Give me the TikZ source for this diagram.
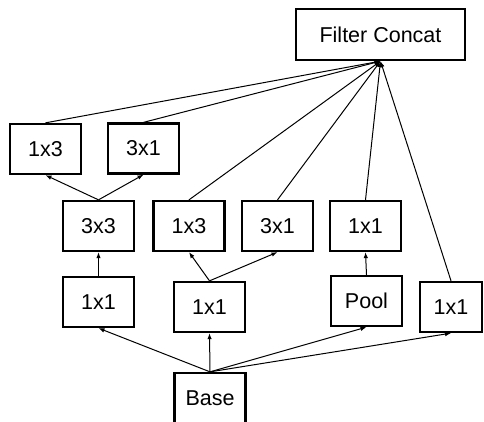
\documentclass[tikz,border=0pt]{standalone}
\usepackage{fontspec}
\setmainfont{Liberation Sans}
\usetikzlibrary{arrows.meta}

\begin{document}
\begin{tikzpicture}[x = 1pt, y = 1pt, line width = 1pt,
    box/.style = {rectangle, draw, line width = 2.3pt, minimum width = 71pt,
        minimum height = 50pt, inner sep = 0pt,
        font = \fontsize{21.5}{24}\selectfont},
    arr/.style = {-{Latex[length = 6pt, width = 4.5pt]}}]
\clip (0,0) rectangle (484,421);
\draw (380.5,386.5) node[box, minimum width = 169pt, minimum height = 51pt](f1){Filter Concat}
    (45.5,272) node[box](t1){1x3}
    (143.5,272.5) node[box](t2){3x1}
    (98.5,195) node[box](m1){3x3}
    (189,195) node[box](m2){1x3}
    (277.5,195) node[box](m3){3x1}
    (365.5,195) node[box](m4){1x1}
    (98.5,119) node[box](l1){1x1}
    (209.5,114) node[box](l2){1x1}
    (366.5,120) node[box](l3){Pool}
    (451,114) node[box, minimum width = 62pt](l4){1x1}
    (210,23) node[box](b1){Base};
    \draw [arr] (b1.north) -- (l1.south);
    \draw [arr] (b1.north) -- (l2.south);
    \draw [arr] (b1.north) -- (l3.south);
    \draw [arr] (b1.north) -- (l4.south);
    \draw [arr] (l1.north) -- (m1.south);
    \draw [arr] (l2.north) -- (m2.south);
    \draw [arr] (l2.north) -- (m3.south);
    \draw [arr] (l3.north) -- (m4.south);
    \draw [arr] (m1.north) -- (t1.south);
    \draw [arr] (m1.north) -- (t2.south);
    \draw [arr] (t1.north) -- (f1.south);
    \draw [arr] (t2.north) -- (f1.south);
    \draw [arr] (m2.north) -- (f1.south);
    \draw [arr] (m3.north) -- (f1.south);
    \draw [arr] (m4.north) -- (f1.south);
    \draw [arr] (l4.north) -- (f1.south);
\end{tikzpicture}
\end{document}
